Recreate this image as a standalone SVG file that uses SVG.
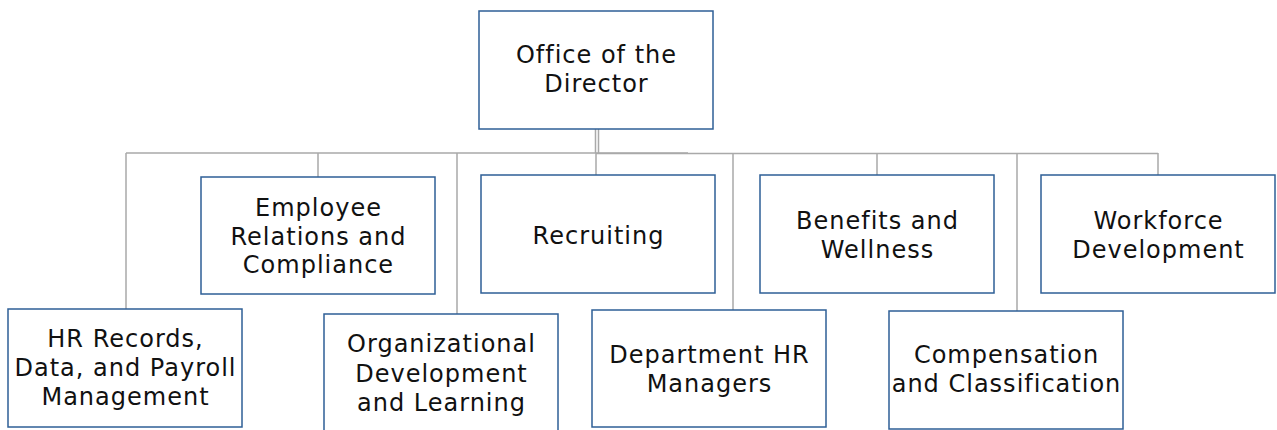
<svg xmlns="http://www.w3.org/2000/svg" width="1277" height="430" viewBox="0 0 1277 430">
<style>
.box{fill:#ffffff;stroke:#2e5f96;stroke-width:1.5}
.lbl{font-family:"DejaVu Sans","Liberation Sans",sans-serif;font-size:24px;fill:#111111;text-anchor:middle;letter-spacing:1px}
.con{fill:none;stroke:#a9a9a9;stroke-width:1.5}
</style>
<rect width="1277" height="430" fill="#ffffff"/>
<g id="connectors">
<path class="con" d="M595.5 129V153M598.5 129V153"/>
<path class="con" d="M126 153H688" stroke="#c4c4c4"/>
<path class="con" d="M596 153.5H1158"/>
<path class="con" d="M126 153V309M318 153V177M457 153V314M596 153V175M733 153V310M877 153V175M1017 153V311M1158 153V175"/>
</g>
<g id="office">
<rect class="box" x="479" y="11" width="234" height="118"/>
<text class="lbl" x="596.5" y="63">Office of the</text>
<text class="lbl" x="596.5" y="92">Director</text>
</g>
<g id="employee-relations">
<rect class="box" x="201" y="177" width="234" height="117"/>
<text class="lbl" x="318.5" y="216">Employee</text>
<text class="lbl" x="318.5" y="245">Relations and</text>
<text class="lbl" x="318.5" y="273">Compliance</text>
</g>
<g id="recruiting">
<rect class="box" x="481" y="175" width="234" height="118"/>
<text class="lbl" x="598.5" y="244">Recruiting</text>
</g>
<g id="benefits">
<rect class="box" x="760" y="175" width="234" height="118"/>
<text class="lbl" x="877.5" y="229">Benefits and</text>
<text class="lbl" x="877.5" y="258">Wellness</text>
</g>
<g id="workforce">
<rect class="box" x="1041" y="175" width="234" height="118"/>
<text class="lbl" x="1158.5" y="229">Workforce</text>
<text class="lbl" x="1158.5" y="258">Development</text>
</g>
<g id="hr-records">
<rect class="box" x="8" y="309" width="234" height="118"/>
<text class="lbl" x="125.5" y="347">HR Records,</text>
<text class="lbl" x="125.5" y="376">Data, and Payroll</text>
<text class="lbl" x="125.5" y="405">Management</text>
</g>
<g id="org-dev">
<rect class="box" x="324" y="314" width="234" height="130"/>
<text class="lbl" x="441.5" y="352">Organizational</text>
<text class="lbl" x="441.5" y="382">Development</text>
<text class="lbl" x="441.5" y="411">and Learning</text>
</g>
<g id="dept-hr">
<rect class="box" x="592" y="310" width="234" height="117"/>
<text class="lbl" x="709.5" y="363">Department HR</text>
<text class="lbl" x="709.5" y="392">Managers</text>
</g>
<g id="compensation">
<rect class="box" x="889" y="311" width="234" height="118"/>
<text class="lbl" x="1006.5" y="363">Compensation</text>
<text class="lbl" x="1006.5" y="392">and Classification</text>
</g>
</svg>
